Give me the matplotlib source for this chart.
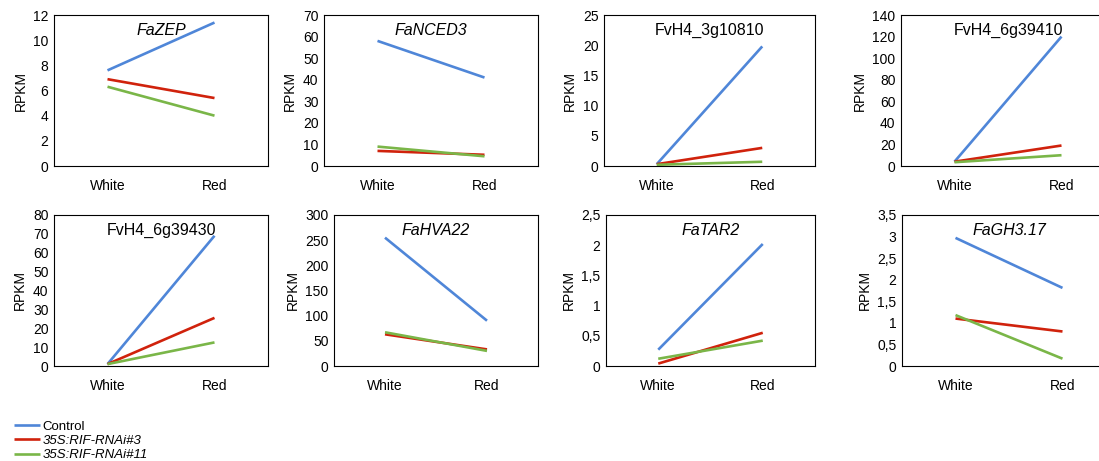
import matplotlib.pyplot as plt
from matplotlib.ticker import FuncFormatter

plt.rcParams['font.family'] = ['Liberation Sans', 'DejaVu Sans']

stages = ['White', 'Red']
series = ['Control', '35S:RIF-RNAi#3', '35S:RIF-RNAi#11']
colors = ['#4f86d8', '#d0220c', '#7ab648']

genes = ['FaZEP', 'FaNCED3', 'FvH4_3g10810', 'FvH4_6g39410',
         'FvH4_6g39430', 'FaHVA22', 'FaTAR2', 'FaGH3.17']
italic = [True, True, False, False, False, True, True, True]

control = [[7.6, 11.4], [58, 41], [0.3, 19.8], [4, 120],
           [1, 69], [255, 90], [0.27, 2.02], [2.97, 1.81]]
rnai3 = [[6.9, 5.4], [7, 5.2], [0.3, 3.0], [4, 19],
         [1, 25.5], [63, 33], [0.04, 0.55], [1.1, 0.8]]
rnai11 = [[6.3, 4.0], [9, 4.5], [0.2, 0.7], [3.5, 10],
          [1, 12.5], [67, 30], [0.12, 0.42], [1.18, 0.17]]

ymax = [12, 70, 25, 140, 80, 300, 2.5, 3.5]
ystep = [2, 10, 5, 20, 10, 50, 0.5, 0.5]

# axes boxes in pixels: left, right, top, bottom
boxes = [(54, 268, 15, 166), (324, 538, 15, 166), (604, 815, 15, 166), (901, 1115, 15, 166),
         (54, 268, 215, 366), (334, 538, 215, 366), (606, 815, 215, 366), (902, 1116, 215, 366)]

W, H = 1099, 461
fig = plt.figure(figsize=(W / 100, H / 100), dpi=100)


def comma(v, pos):
    s = ('%g' % v)
    return s.replace('.', ',')


lines = []
for i, g in enumerate(genes):
    l, r, t, b = boxes[i]
    ax = fig.add_axes([l / W, 1 - b / H, (r - l) / W, (b - t) / H])
    data = [control[i], rnai3[i], rnai11[i]]
    lines = []
    for vals, c, name in zip(data, colors, series):
        ln, = ax.plot([0, 1], vals, color=c, lw=1.9, label=name, solid_capstyle='butt')
        lines.append(ln)
    ax.set_xlim(-0.5, 1.5)
    ax.set_ylim(0, ymax[i])
    ticks = [k * ystep[i] for k in range(int(round(ymax[i] / ystep[i])) + 1)]
    ax.set_yticks(ticks)
    ax.yaxis.set_major_formatter(FuncFormatter(comma))
    ax.set_xticks([0, 1])
    ax.set_xticklabels(stages)
    ax.tick_params(length=0, labelsize=10, pad=4)
    ax.tick_params(axis='x', pad=9)
    ax.set_ylabel('RPKM', fontsize=10, labelpad=4)
    for sp in ax.spines.values():
        sp.set_linewidth(0.8)
    ax.text(0.5, 0.9, g, transform=ax.transAxes, ha='center', va='center',
            fontsize=11.5, style='italic' if italic[i] else 'normal')

leg = fig.legend(handles=lines, labels=series, loc='lower left',
                 bbox_to_anchor=(0.008, -0.012), frameon=False, fontsize=9.5,
                 handlelength=2.0, handletextpad=0.15, labelspacing=0.15,
                 borderaxespad=0)
for txt in leg.get_texts()[1:]:
    txt.set_style('italic')

fig.savefig('out.png', dpi=100)
